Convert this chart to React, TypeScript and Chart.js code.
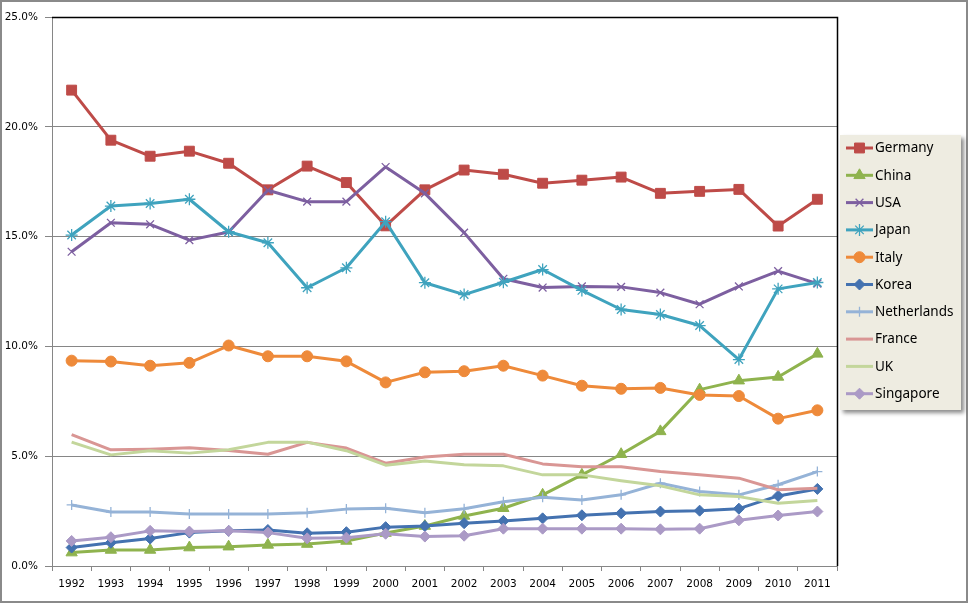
import { useEffect, useRef } from 'react';
import { Chart, registerables } from 'chart.js';
import { drawPoint } from 'chart.js/helpers';

Chart.register(...registerables);

const years = ['1992', '1993', '1994', '1995', '1996', '1997', '1998', '1999', '2000', '2001', '2002', '2003', '2004', '2005', '2006', '2007', '2008', '2009', '2010', '2011'];

const germany = [21.67, 19.39, 18.66, 18.89, 18.34, 17.13, 18.21, 17.46, 15.49, 17.13, 18.03, 17.84, 17.43, 17.57, 17.71, 16.97, 17.06, 17.15, 15.48, 16.70];
const china = [0.61, 0.73, 0.73, 0.84, 0.88, 0.96, 1.0, 1.14, 1.5, 1.82, 2.28, 2.63, 3.24, 4.15, 5.09, 6.13, 8.03, 8.44, 8.61, 9.66];
const usa = [14.31, 15.63, 15.56, 14.84, 15.21, 17.11, 16.59, 16.59, 18.17, 16.97, 15.18, 13.08, 12.68, 12.73, 12.71, 12.45, 11.92, 12.73, 13.43, 12.86];
const japan = [15.07, 16.39, 16.51, 16.70, 15.22, 14.72, 12.67, 13.58, 15.68, 12.90, 12.36, 12.92, 13.50, 12.55, 11.68, 11.45, 10.95, 9.40, 12.62, 12.91];
const italy = [9.35, 9.31, 9.12, 9.25, 10.04, 9.55, 9.55, 9.32, 8.36, 8.82, 8.87, 9.12, 8.67, 8.21, 8.07, 8.11, 7.79, 7.74, 6.71, 7.09];
const korea = [0.84, 1.06, 1.25, 1.52, 1.60, 1.64, 1.49, 1.54, 1.77, 1.82, 1.95, 2.05, 2.17, 2.31, 2.40, 2.48, 2.52, 2.61, 3.19, 3.51];
const netherlands = [2.78, 2.46, 2.46, 2.37, 2.37, 2.37, 2.42, 2.59, 2.63, 2.43, 2.61, 2.93, 3.13, 3.01, 3.24, 3.77, 3.39, 3.24, 3.70, 4.30];
const france = [5.98, 5.29, 5.32, 5.38, 5.26, 5.09, 5.63, 5.37, 4.68, 4.96, 5.09, 5.09, 4.65, 4.52, 4.52, 4.30, 4.15, 4.00, 3.47, 3.54];
const uk = [5.64, 5.06, 5.25, 5.14, 5.29, 5.63, 5.64, 5.25, 4.59, 4.78, 4.61, 4.56, 4.15, 4.15, 3.88, 3.65, 3.24, 3.16, 2.86, 2.98];
const singapore = [1.14, 1.31, 1.60, 1.57, 1.60, 1.52, 1.26, 1.29, 1.47, 1.34, 1.38, 1.70, 1.70, 1.70, 1.70, 1.67, 1.70, 2.08, 2.30, 2.48];

const seriesNames = ['Germany', 'China', 'USA', 'Japan', 'Italy', 'Korea', 'Netherlands', 'France', 'UK', 'Singapore'];
const seriesValues = [germany, china, usa, japan, italy, korea, netherlands, france, uk, singapore];
const seriesColors = ['#BE4B48', '#8FB34E', '#7D5FA0', '#3FA3BE', '#EE8A3A', '#4472B0', '#95B3D7', '#D99694', '#C3D69B', '#AB9AC6'];
const seriesMarkers: any[] = ['rect', 'triangle', 'crossRot', 'star', 'circle', 'rectRot', 'cross', false, false, 'rectRot'];
const markerRadius = [7, 6.5, 5.5, 6, 5.5, 5.5, 5, 0, 0, 5.5];

const yMin = 0;
const yMax = 25;
const yStep = 5;

const GRID = '#868686';

const framePlugin = {
  id: 'frame',
  beforeDraw(chart: any) {
    const { ctx, width, height } = chart;
    ctx.save();
    ctx.fillStyle = '#fff';
    ctx.fillRect(0, 0, width, height);
    ctx.restore();
  },
  afterDraw(chart: any) {
    const { ctx, chartArea } = chart;
    const { left, top, right, bottom } = chartArea;
    ctx.save();
    ctx.strokeStyle = '#000';
    ctx.lineWidth = 1.5;
    ctx.beginPath();
    ctx.moveTo(left, top + 0.5);
    ctx.lineTo(right + 0.5, top + 0.5);
    ctx.lineTo(right + 0.5, bottom);
    ctx.stroke();
    ctx.strokeStyle = '#8a8a8a';
    ctx.lineWidth = 2;
    ctx.strokeRect(1, 1, chart.width - 2, chart.height - 2);

    const lx = 840, ly = 135, lw = 121, lh = 275;
    ctx.save();
    ctx.shadowColor = 'rgba(0,0,0,0.45)';
    ctx.shadowBlur = 4;
    ctx.shadowOffsetX = 3;
    ctx.shadowOffsetY = 3;
    ctx.fillStyle = '#EEECE1';
    ctx.fillRect(lx, ly, lw, lh);
    ctx.restore();

    chart.data.datasets.forEach((ds: any, i: number) => {
      const y = 148 + i * 27.3;
      ctx.strokeStyle = ds.borderColor;
      ctx.lineWidth = 3;
      ctx.lineCap = 'butt';
      ctx.beginPath();
      ctx.moveTo(846, y);
      ctx.lineTo(873, y);
      ctx.stroke();
      if (ds.pointStyle) {
        ctx.fillStyle = ds.pointBackgroundColor;
        ctx.strokeStyle = ds.pointBorderColor;
        ctx.lineWidth = ds.pointBorderWidth;
        drawPoint(ctx, { pointStyle: ds.pointStyle, rotation: 0, radius: ds.pointRadius, borderWidth: ds.pointBorderWidth }, 859.5, y);
      }
      ctx.fillStyle = '#000';
      ctx.font = '13.5px "Noto Sans"';
      ctx.textBaseline = 'middle';
      ctx.textAlign = 'left';
      ctx.fillText(ds.label, 875, y + 0.5);
    });
    ctx.restore();
  },
};

export default function App() {
  const ref = useRef<HTMLCanvasElement>(null);
  useEffect(() => {
    if (!ref.current) return;
    const datasets = seriesNames.map((name, i) => {
      const m = seriesMarkers[i];
      const isStroke = m === 'crossRot' || m === 'star' || m === 'cross';
      return {
        label: name,
        data: seriesValues[i],
        borderColor: seriesColors[i],
        backgroundColor: seriesColors[i],
        borderWidth: 3,
        borderJoinStyle: 'round' as const,
        tension: 0,
        pointStyle: m,
        pointRadius: m ? markerRadius[i] : 0,
        pointBackgroundColor: seriesColors[i],
        pointBorderColor: seriesColors[i],
        pointBorderWidth: isStroke ? 1.3 : 1,
        order: -i,
      };
    });
    const chart = new Chart(ref.current, {
      type: 'line',
      data: { labels: years, datasets },
      options: {
        animation: false,
        responsive: false,
        devicePixelRatio: 1,
        layout: { padding: { left: 0, top: 17, right: 131, bottom: 0 } },
        plugins: { legend: { display: false }, tooltip: { enabled: false } },
        scales: {
          x: {
            offset: true,
            afterFit: (s: any) => { s.height = 37; },
            grid: { offset: true, drawOnChartArea: false, tickLength: 5, color: GRID, lineWidth: 1 },
            border: { color: GRID, width: 1 },
            ticks: { color: '#000', font: { family: '"DejaVu Sans"', size: 10.5 }, padding: 7, maxRotation: 0, autoSkip: false },
          },
          y: {
            min: yMin,
            max: yMax,
            afterFit: (s: any) => { s.width = 52; },
            grid: { color: GRID, lineWidth: 1, tickLength: 7 },
            border: { color: GRID, width: 1 },
            ticks: {
              stepSize: yStep,
              color: '#000',
              font: { family: '"DejaVu Sans"', size: 10.5 },
              padding: 7,
              callback: (v: any) => Number(v).toFixed(1) + '%',
            },
          },
        },
      },
      plugins: [framePlugin],
    });
    return () => chart.destroy();
  }, []);
  return (
    <div style={{ position: 'fixed', left: 0, top: 0, width: 968, height: 603 }}>
      <canvas ref={ref} width={968} height={603} style={{ display: 'block', width: 968, height: 603 }} />
    </div>
  );
}
